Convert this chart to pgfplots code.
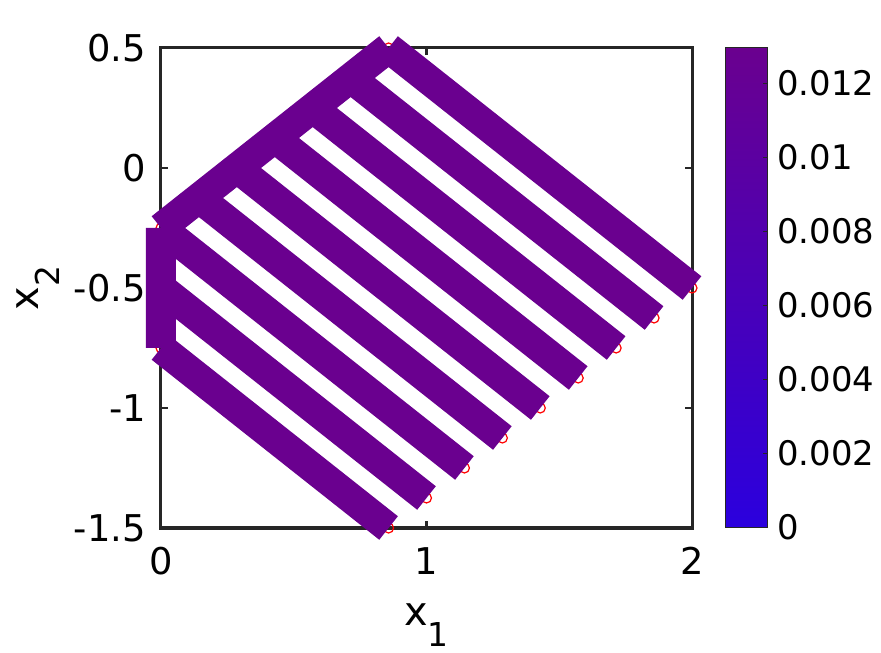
\documentclass[border=0pt]{standalone}
\usepackage{fontspec}
\setmainfont{DejaVu Sans}
\usepackage{pgfplots}
\usepackage{pgfplotstable}
\pgfplotsset{compat=1.18}

\definecolor{barpurple}{RGB}{106,0,143}
\definecolor{axgray}{RGB}{38,38,38}
\newcommand\tickfont{\fontsize{37}{44}\selectfont}
\newcommand\cbfont{\fontsize{34}{40}\selectfont}
\newcommand\labfont{\fontsize{40}{48}\selectfont}

% bar segments, nan rows split them
\pgfplotstableread{
x y
0 -0.25
1.142857 -1.25
nan nan
0.142857 -0.125
1.285714 -1.125
nan nan
0.285714 0
1.428571 -1
nan nan
0.428571 0.125
1.571429 -0.875
nan nan
0.571429 0.25
1.714286 -0.75
nan nan
0.714286 0.375
1.857143 -0.625
nan nan
0.857143 0.5
2 -0.5
nan nan
0 -0.5
1 -1.375
nan nan
0 -0.75
0.857143 -1.5
nan nan
0 -0.25
0.857143 0.5
nan nan
0 -0.25
0 -0.75
}\bars

% nodes at the ends of the bars
\pgfplotstableread{
x y
0 -0.25
0 -0.5
0 -0.75
0.857143 0.5
0.857143 -1.5
1 -1.375
1.142857 -1.25
1.285714 -1.125
1.428571 -1
1.571429 -0.875
1.714286 -0.75
1.857143 -0.625
2 -0.5
}\nodes

\begin{document}
\begin{tikzpicture}
\useasboundingbox (-161bp,-125bp) rectangle (720bp,528bp);
\begin{axis}[
    scale only axis,
    width=531bp, height=480bp,
    xmin=0, xmax=2, ymin=-1.5, ymax=0.5,
    clip=false, clip marker paths=true,
    xtick={0,1,2}, xticklabels={0,1,2},
    ytick={-1.5,-1,-0.5,0,0.5}, yticklabels={-1.5,-1,-0.5,0,0.5},
    xticklabel style={font=\tickfont, anchor=north, inner sep=0pt, yshift=-19bp},
    yticklabel style={font=\tickfont, anchor=east, inner sep=0pt, xshift=-15bp},
    axis line style={draw=axgray, line width=3bp},
    tick style={draw=axgray, line width=2.5bp},
    major tick length=7bp,
    tick align=inside,
    unbounded coords=jump,
]
\addplot[only marks, mark=o, mark size=5bp, red,
    mark options={line width=1.2bp}] table {\nodes};
\addplot[barpurple, line width=30bp, line cap=butt] table {\bars};
\end{axis}
% colour bar
\begin{axis}[
    at={(564bp,1bp)}, anchor=south west,
    scale only axis, width=42bp, height=479bp,
    xmin=0, xmax=1, ymin=0, ymax=0.01295,
    xtick=\empty,
    scaled y ticks=false,
    ytick={0,0.002,0.004,0.006,0.008,0.01,0.012},
    yticklabels={0,0.002,0.004,0.006,0.008,0.01,0.012},
    yticklabel pos=right, ytick pos=right,
    yticklabel style={font=\cbfont, anchor=west, inner sep=0pt, xshift=10bp},
    axis line style={draw=axgray, line width=1bp},
    tick style={draw=axgray, line width=1bp},
    major tick length=4bp,
    tick align=inside,
    axis on top,
    colormap={mc}{rgb255=(43,0,222) rgb255=(106,0,143)},
    point meta min=0, point meta max=0.01295,
]
\addplot[surf, shader=interp, point meta=y, mesh/cols=2] coordinates {
    (0,0) (1,0) (0,0.01295) (1,0.01295)};
\end{axis}
\node[anchor=base, font=\labfont] at (265.5bp,-97bp)
    {x\raisebox{-21bp}{\fontsize{33}{40}\selectfont 1}};
\node[anchor=base, rotate=90, font=\labfont] at (-122bp,240bp)
    {x\raisebox{-21bp}{\fontsize{33}{40}\selectfont 2}};
\end{tikzpicture}
\end{document}
